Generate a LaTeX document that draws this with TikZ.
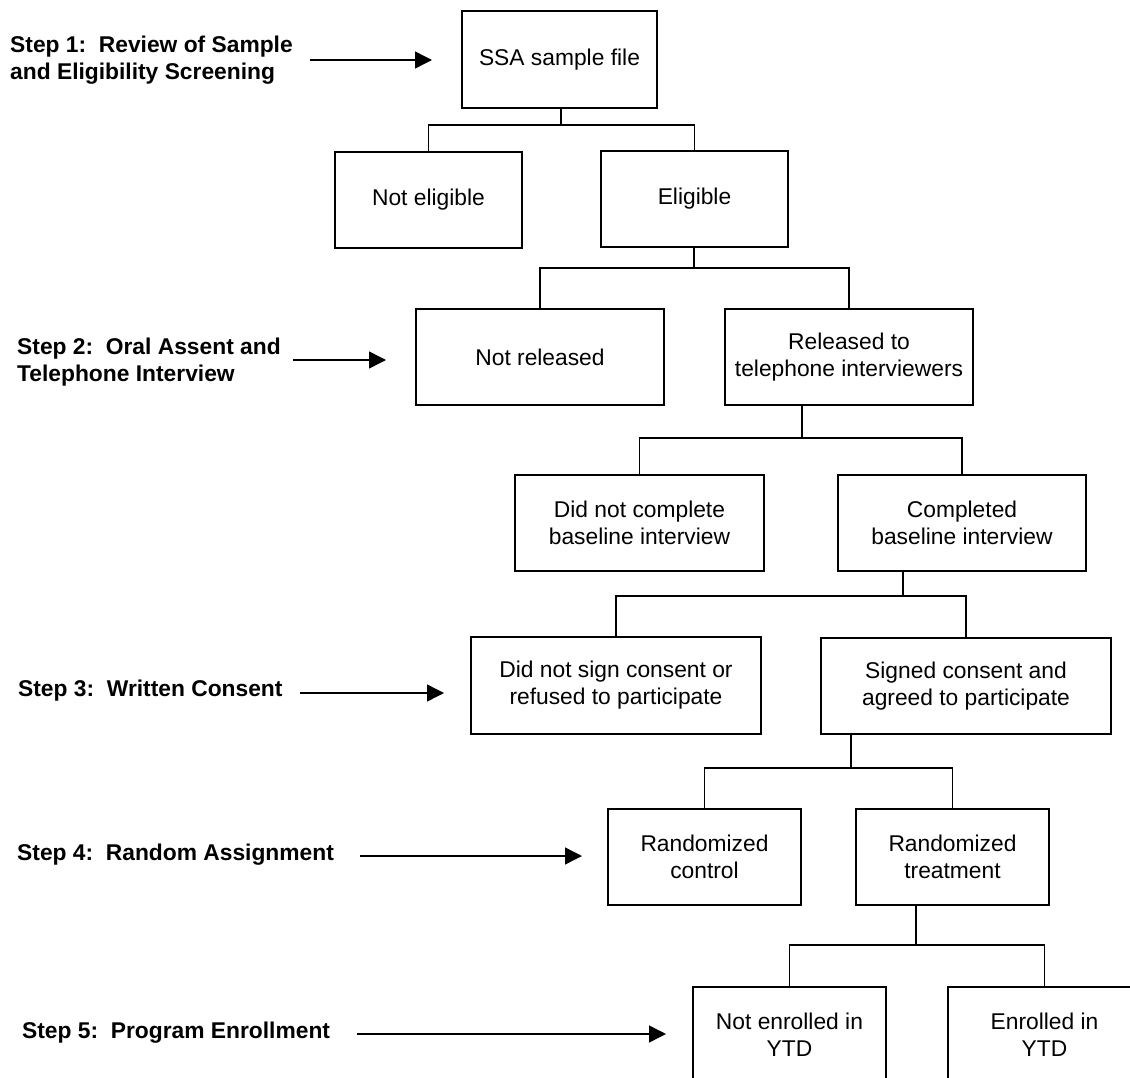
\documentclass[tikz,border=0pt]{standalone}
\usepackage{fontspec}
\setmainfont{Liberation Sans}
\usetikzlibrary{arrows.meta}
\begin{document}
\begin{tikzpicture}[x=1pt,y=-1pt,
  box/.style={draw, line width=1.4pt, inner sep=2pt, align=center, font=\fontsize{22.8}{27}\selectfont},
  steplabel/.style={anchor=west, inner sep=0pt, align=left, font=\bfseries\fontsize{22.8}{26.5}\selectfont},
  link/.style={line width=1.4pt},
  arr/.style={line width=1.4pt, -{Triangle[length=17pt,width=17pt]}}]
\clip (0,0) rectangle (1130,1078);

% boxes
\node[box, minimum width=195pt, minimum height=97pt] (ssa) at (559.5,59.5) {SSA sample file};
\node[box, minimum width=187pt, minimum height=96pt] (nelig) at (428.5,200) {Not eligible};
\node[box, minimum width=187pt, minimum height=96pt] (elig) at (694.5,199) {Eligible};
\node[box, minimum width=248pt, minimum height=96pt] (nrel) at (540,357) {Not released};
\node[box, minimum width=248pt, minimum height=96pt] (rel) at (849,357) {Released to\\telephone interviewers};
\node[box, minimum width=249pt, minimum height=96pt] (nbase) at (639.5,523) {Did not complete\\baseline interview};
\node[box, minimum width=248pt, minimum height=96pt] (base) at (962,523) {Completed\\baseline interview};
\node[box, minimum width=290pt, minimum height=97pt] (nsign) at (616,685.5) {Did not sign consent or\\refused to participate};
\node[box, minimum width=290pt, minimum height=96pt] (sign) at (966,686) {Signed consent and\\agreed to participate};
\node[box, minimum width=193pt, minimum height=96pt] (ctrl) at (704.5,857) {Randomized\\control};
\node[box, minimum width=193pt, minimum height=96pt] (treat) at (952.5,857) {Randomized\\treatment};
\node[box, minimum width=193pt, minimum height=96pt] (nenr) at (789.5,1035) {Not enrolled in\\YTD};
\node[box, minimum width=193pt, minimum height=96pt] (enr) at (1044.5,1035) {Enrolled in\\YTD};

% tree connectors
\coordinate (j1) at (561,125);
\draw[link] (ssa.south -| j1) -- (j1);
\draw[link] (nelig.north) |- (j1) -| (elig.north);

\coordinate (j2) at (694,268);
\draw[link] (elig.south -| j2) -- (j2);
\draw[link] (nrel.north) |- (j2) -| (rel.north);

\coordinate (j3) at (802,438);
\draw[link] (rel.south -| j3) -- (j3);
\draw[link] (nbase.north) |- (j3) -| (base.north);

\coordinate (j4) at (903,596);
\draw[link] (base.south -| j4) -- (j4);
\draw[link] (nsign.north) |- (j4) -| (sign.north);

\coordinate (j5) at (851,768);
\draw[link] (sign.south -| j5) -- (j5);
\draw[link] (ctrl.north) |- (j5) -| (treat.north);

\coordinate (j6) at (916,945);
\draw[link] (treat.south -| j6) -- (j6);
\draw[link] (nenr.north) |- (j6) -| (enr.north);

% step labels
\node[steplabel] (s1) at (10,60) {Step 1:\ \ Review of Sample\\and Eligibility Screening};
\node[steplabel] (s2) at (17,362) {Step 2:\ \ Oral Assent and\\Telephone Interview};
\node[steplabel] (s3) at (18,691) {Step 3:\ \ Written Consent};
\node[steplabel] (s4) at (17,855) {Step 4:\ \ Random Assignment};
\node[steplabel] (s5) at (22,1033) {Step 5:\ \ Program Enrollment};

% step arrows
\coordinate (a1) at (310,60);   \coordinate (b1) at (432,60);
\coordinate (a2) at (293,360);  \coordinate (b2) at (386,360);
\coordinate (a3) at (300,693);  \coordinate (b3) at (444,693);
\coordinate (a4) at (360,856);  \coordinate (b4) at (582,856);
\coordinate (a5) at (357,1034); \coordinate (b5) at (666,1034);
\draw[arr] (a1) -- (b1);
\draw[arr] (a2) -- (b2);
\draw[arr] (a3) -- (b3);
\draw[arr] (a4) -- (b4);
\draw[arr] (a5) -- (b5);
\end{tikzpicture}
\end{document}
